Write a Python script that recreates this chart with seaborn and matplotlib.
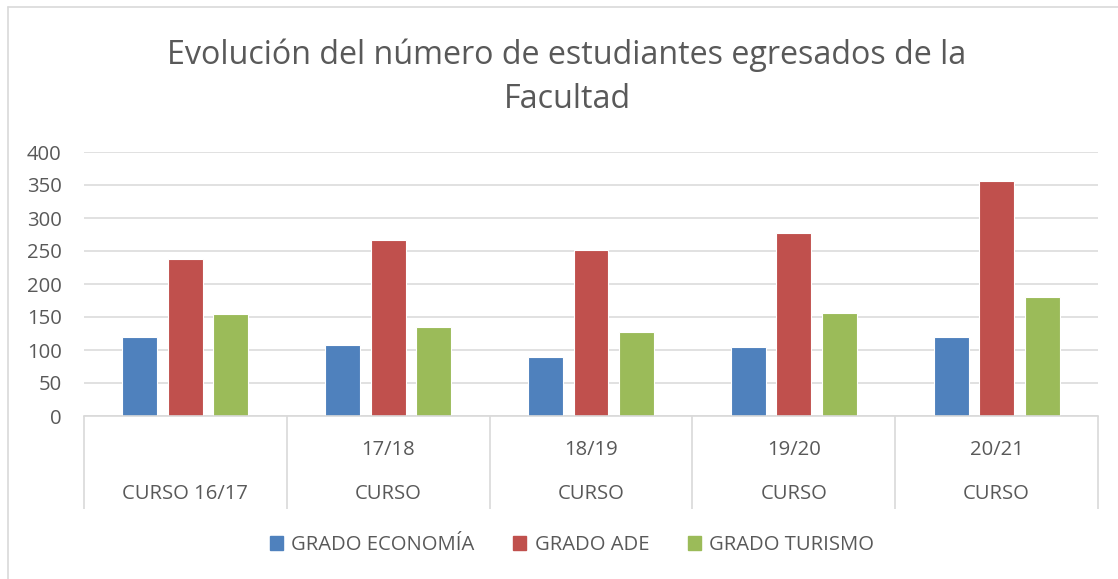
import matplotlib
matplotlib.use("Agg")
import matplotlib.pyplot as plt
from matplotlib.lines import Line2D
import seaborn as sns
import pandas as pd

categories = ["CURSO 16/17", "CURSO 17/18", "CURSO 18/19", "CURSO 19/20", "CURSO 20/21"]
label_top = ["", "17/18", "18/19", "19/20", "20/21"]
label_bottom = ["CURSO 16/17", "CURSO", "CURSO", "CURSO", "CURSO"]
series_names = ["GRADO ECONOMÍA", "GRADO ADE", "GRADO TURISMO"]
economia = [119, 107, 89, 104, 119]
ade = [238, 266, 252, 278, 356]
turismo = [155, 135, 127, 156, 181]
colors = ["#4F81BD", "#C0504D", "#9BBB59"]
title = "Evolución del número de estudiantes egresados de la\nFacultad"
yticks = [0, 50, 100, 150, 200, 250, 300, 350, 400]

rows = []
for name, vals in zip(series_names, [economia, ade, turismo]):
    for c, v in zip(categories, vals):
        rows.append({"curso": c, "serie": name, "valor": v})
df = pd.DataFrame(rows)

sns.set_style("white")
plt.rcParams["font.family"] = ["Open Sans", "DejaVu Sans"]
txt = "#595959"
grid = "#D9D9D9"
fs = 14.6

W, H = 1118, 579
fig = plt.figure(figsize=(W / 100, H / 100), dpi=100)
ax = fig.add_axes([84 / W, 1 - 416 / H, (1098 - 84) / W, (416 - 152) / H])

sns.barplot(data=df, x="curso", y="valor", hue="serie", order=categories,
            hue_order=series_names, palette=colors, saturation=1, width=0.672, gap=0.23,
            edgecolor="white", linewidth=0.8, ax=ax, legend=False, zorder=3)

ax.set_xlim(-0.5, len(categories) - 0.5)
ax.set_ylim(0, 400)
ax.set_yticks(yticks)
ax.set_yticklabels([str(t) for t in yticks], fontsize=fs, color=txt)
ax.tick_params(axis="y", length=0, pad=16)
ax.set_xticks([])
ax.set_xlabel("")
ax.set_ylabel("")
ax.grid(axis="y", color=grid, lw=1.1, zorder=0)
ax.set_axisbelow(True)
for s in ["top", "right", "left"]:
    ax.spines[s].set_visible(False)
ax.spines["bottom"].set_color(grid)
ax.spines["bottom"].set_linewidth(1.2)
ax.spines["bottom"].set_zorder(4)

# category separators
xt = ax.get_xaxis_transform()
ax.vlines([i - 0.5 for i in range(len(categories) + 1)], -0.352, 0,
          transform=xt, colors=grid, lw=1.2, clip_on=False)
for i, (t, b) in enumerate(zip(label_top, label_bottom)):
    ax.text(i, -0.129, t, transform=xt, ha="center", va="center", fontsize=fs, color=txt)
    ax.text(i, -0.297, b, transform=xt, ha="center", va="center", fontsize=fs, color=txt)

fig.text(567 / W, 1 - 77 / H, title, ha="center", va="center", fontsize=23.2,
         color=txt, linespacing=1.42)

handles = [plt.Rectangle((0, 0), 1, 1, color=c) for c in colors]
fig.legend(handles, series_names, loc="center", bbox_to_anchor=(572 / W, 1 - 545 / H),
           ncol=3, frameon=False, fontsize=fs, labelcolor=txt, handlelength=0.65,
           handleheight=0.65, handletextpad=0.4, columnspacing=1.9)

# chart area border
fig.add_artist(Line2D([7.5 / W, 7.5 / W], [0, 1 - 6.5 / H], color=grid, lw=1.2))
fig.add_artist(Line2D([7.5 / W, 1], [1 - 6.5 / H, 1 - 6.5 / H], color=grid, lw=1.2))

fig.savefig("out.png", dpi=100)
